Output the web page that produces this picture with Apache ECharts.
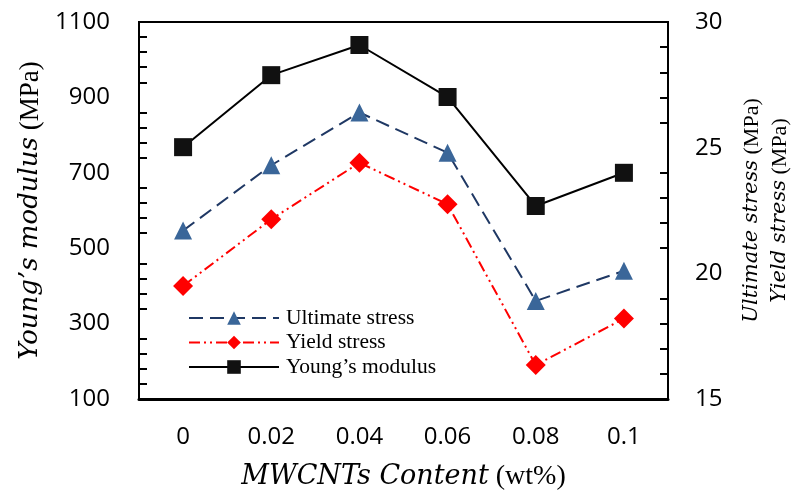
<!DOCTYPE html>
<html lang="en">

<head>
    <meta charset="UTF-8">
    <title>MWCNTs content</title>
    <script src="https://cdn.jsdelivr.net/npm/echarts@6.0.0/dist/echarts.min.js"></script>
</head>

<body style="margin:0">
    <div id="main" style="width: 792px;height:499px;"></div>

    <script type="text/javascript">
        // Data
        let categories = ['0', '0.02', '0.04', '0.06', '0.08', '0.1'];
        let ultimateStress = [21.7, 24.3, 26.4, 24.8, 18.9, 20.1];   // MPa, right axis
        let yieldStress = [19.5, 22.15, 24.4, 22.75, 16.35, 18.2];   // MPa, right axis
        let youngsModulus = [768, 959, 1039, 901, 612, 700];         // MPa, left axis

        let serif = 'Liberation Serif';
        let serifItalic = 'DejaVu Serif';   // Liberation Serif has no italic face here
        let sans = 'Open Sans';

        let myChart = echarts.init(document.getElementById('main'));

        // rich text styles for the mixed italic / upright axis titles
        let richName = (iSize, rSize, lh) => ({
            i: { fontFamily: serifItalic, fontStyle: 'italic', fontSize: iSize, color: '#000', lineHeight: lh },
            r: { fontFamily: serif, fontSize: rSize, color: '#000', lineHeight: lh }
        });

        let options = {
            animation: false,
            backgroundColor: '#fff',
            grid: {
                left: 139, right: 124, top: 22, bottom: 100,
                outerBoundsMode: 'none',
                show: true, borderColor: '#000', borderWidth: 2
            },
            legend: {
                orient: 'vertical',
                left: 183, top: 302,
                itemWidth: 90, itemHeight: 17, itemGap: 2.5,
                textStyle: { fontFamily: serif, fontSize: 21.5, color: '#000', lineHeight: 22, padding: [0, 0, 0, 2] },
                data: ['Ultimate stress', 'Yield stress', 'Young’s modulus']
            },
            xAxis: {
                type: 'category',
                data: categories,
                name: '{i|MWCNTs Content}{r| (wt%)}',
                nameLocation: 'middle',
                nameGap: 64,
                nameTextStyle: { fontFamily: serif, fontSize: 27, color: '#000', rich: richName(27, 28) },
                axisLine: { lineStyle: { color: '#000', width: 3 } },
                axisTick: { inside: true, alignWithLabel: true, length: 6, lineStyle: { color: '#000', width: 3 } },
                axisLabel: { fontFamily: sans, fontSize: 24, color: '#000', margin: 26 },
                splitLine: { show: false }
            },
            yAxis: [{
                type: 'value',
                min: 100, max: 1100, interval: 200,
                name: '{i|Young’s modulus}{r| (MPa)}',
                nameLocation: 'middle',
                nameGap: 94,
                nameTextStyle: { fontFamily: serif, fontSize: 27, color: '#000', rich: richName(26, 27) },
                axisLine: { show: true, lineStyle: { color: '#000', width: 2 } },
                axisTick: { inside: true, length: 8, lineStyle: { color: '#000', width: 2 } },
                minorTick: { show: true, splitNumber: 5, length: 8, lineStyle: { color: '#000', width: 2 } },
                axisLabel: { fontFamily: sans, fontSize: 24, color: '#000', margin: 29, formatter: v => String(v) },
                splitLine: { show: false }
            }, {
                type: 'value',
                position: 'right',
                min: 15, max: 30, interval: 5,
                name: '{i|Ultimate stress}{r| (MPa)}\n{i|Yield stress}{r| (MPa)}',
                nameLocation: 'middle',
                nameGap: 70,
                nameTextStyle: { fontFamily: serif, fontSize: 21, color: '#000', lineHeight: 28, rich: richName(21, 22, 28) },
                axisLine: { show: true, lineStyle: { color: '#000', width: 2 } },
                axisTick: { inside: true, length: 8, lineStyle: { color: '#000', width: 2 } },
                minorTick: { show: true, splitNumber: 5, length: 8, lineStyle: { color: '#000', width: 2 } },
                axisLabel: { fontFamily: sans, fontSize: 24, color: '#000', margin: 27 },
                splitLine: { show: false }
            }],
            series: [{
                name: 'Ultimate stress',
                type: 'line',
                yAxisIndex: 1,
                data: ultimateStress,
                symbol: 'triangle', symbolSize: 18,
                itemStyle: { color: '#3A6699' },
                lineStyle: { color: '#1F3864', width: 2, type: [14, 7] }
            }, {
                name: 'Yield stress',
                type: 'line',
                yAxisIndex: 1,
                data: yieldStress,
                symbol: 'diamond', symbolSize: 20,
                itemStyle: { color: '#FF0000' },
                lineStyle: { color: '#FF0000', width: 2, type: [11, 4, 2, 4, 2, 4] }
            }, {
                name: 'Young’s modulus',
                type: 'line',
                yAxisIndex: 0,
                data: youngsModulus,
                symbol: 'rect', symbolSize: 18,
                itemStyle: { color: '#111' },
                lineStyle: { color: '#000', width: 2 }
            }]
        };

        myChart.setOption(options);
    </script>
</body>

</html>
